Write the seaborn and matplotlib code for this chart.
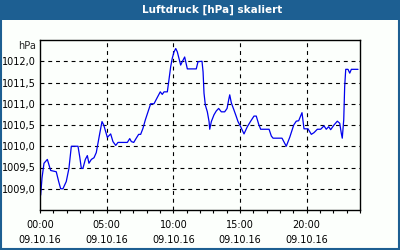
import matplotlib
matplotlib.use("Agg")
import matplotlib.pyplot as plt
import seaborn as sns
import pandas as pd
from matplotlib.patches import Rectangle
from matplotlib.ticker import FixedLocator, MultipleLocator

hours = [0.05, 0.15, 0.30, 0.55, 0.80, 1.22, 1.40, 1.55, 1.72, 1.97, 2.17, 2.35, 2.85, 2.98,
         3.10, 3.22, 3.40, 3.55, 3.67, 3.85, 4.05, 4.22, 4.48, 4.65, 4.78, 5.05, 5.30, 5.47,
         5.68, 5.85, 6.55, 6.73, 6.85, 7.03, 7.22, 7.40, 7.55, 7.72, 7.90, 8.10, 8.30, 8.55,
         8.80, 9.02, 9.17, 9.30, 9.55, 9.67, 9.80, 9.92, 10.05, 10.18, 10.30, 10.42, 10.55,
         10.67, 10.85, 11.05, 11.72, 11.85, 12.15, 12.23, 12.30, 12.40, 12.55, 12.68, 12.73,
         12.85, 13.05, 13.22, 13.40, 13.60, 13.85, 14.03, 14.15, 14.23, 14.35, 14.55, 14.72,
         14.85, 15.05, 15.30, 15.55, 15.80, 16.05, 16.22, 16.40, 16.55, 17.18, 17.35, 17.48,
         18.15, 18.47, 18.73, 19.03, 19.22, 19.40, 19.65, 19.80, 20.10, 20.35, 20.55, 20.80,
         21.05, 21.30, 21.47, 21.65, 21.80, 22.05, 22.30, 22.48, 22.60, 22.67, 22.78, 22.85,
         22.93, 23.10, 23.23, 23.35, 23.85]
pressure = [1008.85, 1009.25, 1009.60, 1009.69, 1009.43, 1009.40, 1009.17, 1009.00, 1009.00,
            1009.17, 1009.48, 1010.00, 1010.00, 1009.75, 1009.48, 1009.48, 1009.69, 1009.78,
            1009.60, 1009.69, 1009.73, 1009.85, 1010.30, 1010.58, 1010.50, 1010.21, 1010.29,
            1010.11, 1010.02, 1010.09, 1010.09, 1010.18, 1010.11, 1010.09, 1010.19, 1010.28,
            1010.28, 1010.42, 1010.62, 1010.81, 1011.00, 1011.00, 1011.15, 1011.28, 1011.22,
            1011.28, 1011.28, 1011.56, 1011.87, 1012.07, 1012.22, 1012.30, 1012.22, 1012.07,
            1011.91, 1011.99, 1012.10, 1011.82, 1011.82, 1011.99, 1012.00, 1011.75, 1011.25,
            1010.97, 1010.81, 1010.58, 1010.40, 1010.58, 1010.74, 1010.83, 1010.89, 1010.81,
            1010.81, 1010.89, 1011.09, 1011.21, 1011.02, 1010.85, 1010.70, 1010.58, 1010.46,
            1010.29, 1010.46, 1010.59, 1010.71, 1010.71, 1010.52, 1010.40, 1010.40, 1010.24,
            1010.19, 1010.19, 1010.00, 1010.21, 1010.50, 1010.59, 1010.60, 1010.79, 1010.41,
            1010.41, 1010.28, 1010.32, 1010.40, 1010.40, 1010.48, 1010.40, 1010.46, 1010.39,
            1010.50, 1010.59, 1010.54, 1010.30, 1010.19, 1010.62, 1011.40, 1011.81, 1011.81,
            1011.72, 1011.81, 1011.81]

x_ticks = [0, 5, 10, 15, 20]
x_tick_labels = ["00:00\n09.10.16", "05:00\n09.10.16", "10:00\n09.10.16",
                 "15:00\n09.10.16", "20:00\n09.10.16"]
y_ticks = [1009.0, 1009.5, 1010.0, 1010.5, 1011.0, 1011.5, 1012.0]
y_tick_labels = ["1009,0", "1009,5", "1010,0", "1010,5", "1011,0", "1011,5", "1012,0"]
title = "Luftdruck [hPa] skaliert"
unit = "hPa"

sns.set_style("white")
plt.rcParams['font.family'] = ['DejaVu Sans']

bg = "#fcfffc"
frame_col = "#1d5f92"

fig = plt.figure(figsize=(4, 2.5), dpi=100, facecolor=bg)
ax = fig.add_axes([0.1, 0.16, 0.8, 0.68])
ax.set_facecolor(bg)

df = pd.DataFrame({"h": hours, "p": pressure})
sns.lineplot(data=df, x="h", y="p", ax=ax, color="#0000ee", linewidth=0.9,
             estimator=None, sort=False)

ax.set_xlim(0, 24)
ax.set_ylim(1008.5, 1012.5)
ax.set_xlabel("")
ax.set_ylabel("")

ax.xaxis.set_major_locator(FixedLocator(x_ticks))
ax.set_xticklabels(x_tick_labels, fontsize=7, color="black")
ax.xaxis.set_minor_locator(MultipleLocator(1))
ax.yaxis.set_major_locator(FixedLocator(y_ticks))
ax.set_yticklabels(y_tick_labels, fontsize=7, color="black")
for lab in ax.get_xticklabels():
    lab.set_linespacing(1.6)

ax.tick_params(axis="x", which="both", direction="out", length=2.5, width=0.8,
               color="black", bottom=True, pad=5)
ax.tick_params(axis="y", which="both", length=0, pad=3, left=False)

ax.grid(False)
for v in x_ticks[1:]:
    ax.axvline(v, color="black", linewidth=0.8, linestyle=(0, (3.5, 3.5)), zorder=1)
for v in y_ticks:
    ax.axhline(v, color="black", linewidth=0.8, linestyle=(0, (3.5, 3.5)), zorder=1)

for s in ax.spines.values():
    s.set_visible(True)
    s.set_color("black")
    s.set_linewidth(1.0)

# title bar and frame
fig.patches.append(Rectangle((0, 0.92), 1, 0.08, transform=fig.transFigure,
                             facecolor=frame_col, edgecolor="none", zorder=0))
fig.patches.append(Rectangle((0.002, 0.003), 0.995, 0.995, transform=fig.transFigure,
                             facecolor="none", edgecolor=frame_col, linewidth=1.5, zorder=0))
fig.text(0.53, 0.96, title, color="white", fontsize=7.5, fontweight="bold",
         ha="center", va="center")
fig.text(36 / 400, 1 - 46 / 250, unit, fontsize=7, ha="right", va="center")

fig.savefig("out.png", dpi=100, facecolor=bg)
